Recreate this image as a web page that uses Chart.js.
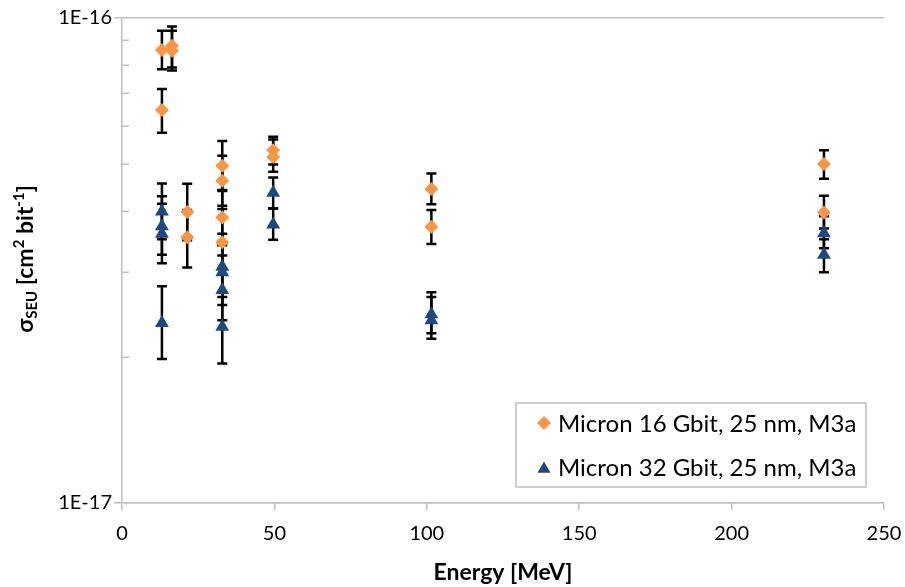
<!DOCTYPE html>
<html>
<head>
<meta charset="utf-8">
<script src="https://cdn.jsdelivr.net/npm/chart.js@4.4.1/dist/chart.umd.min.js"></script>
<style>
  html, body { margin: 0; padding: 0; background: #fff; }
</style>
</head>
<body>
<canvas id="myChart" width="905" height="587"></canvas>
<script>
// Micron 16 Gbit, 25 nm, M3a
const energy16 = [13.1, 13.1, 16.4, 16.4, 21.4, 21.4, 32.9, 32.9, 32.9, 32.9, 49.6, 49.6, 101.5, 101.5, 230.3, 230.3];
const sigma16 = [8.59e-17, 6.46e-17, 8.77e-17, 8.56e-17, 3.98e-17, 3.53e-17, 4.96e-17, 4.62e-17, 3.88e-17, 3.45e-17, 5.34e-17, 5.17e-17, 4.44e-17, 3.71e-17, 5.00e-17, 3.97e-17];
const sigma16Lo = [7.84e-17, 5.80e-17, 7.91e-17, 7.79e-17, 3.48e-17, 3.06e-17, 4.40e-17, 4.10e-17, 3.40e-17, 3.04e-17, 4.99e-17, 4.82e-17, 4.13e-17, 3.42e-17, 4.66e-17, 3.68e-17];
const sigma16Hi = [9.41e-17, 7.14e-17, 9.60e-17, 9.41e-17, 4.55e-17, 4.02e-17, 5.58e-17, 5.20e-17, 4.42e-17, 4.04e-17, 5.69e-17, 5.62e-17, 4.78e-17, 4.02e-17, 5.34e-17, 4.30e-17];

// Micron 32 Gbit, 25 nm, M3a
const energy32 = [13.1, 13.1, 13.1, 13.1, 32.9, 32.9, 32.9, 32.9, 49.6, 49.6, 101.5, 101.5, 230.3, 230.3];
const sigma32 = [3.99e-17, 3.72e-17, 3.59e-17, 2.35e-17, 3.07e-17, 2.99e-17, 2.75e-17, 2.31e-17, 4.36e-17, 3.75e-17, 2.45e-17, 2.38e-17, 3.60e-17, 3.25e-17];
const sigma32Lo = [3.50e-17, 3.25e-17, 3.12e-17, 1.98e-17, 2.66e-17, 2.56e-17, 2.38e-17, 1.94e-17, 4.05e-17, 3.49e-17, 2.24e-17, 2.18e-17, 3.35e-17, 2.99e-17];
const sigma32Hi = [4.56e-17, 4.29e-17, 4.14e-17, 2.80e-17, 3.59e-17, 3.45e-17, 3.24e-17, 2.72e-17, 4.69e-17, 4.05e-17, 2.72e-17, 2.66e-17, 3.90e-17, 3.50e-17];

const seriesLabels = ['Micron 16 Gbit, 25 nm, M3a', 'Micron 32 Gbit, 25 nm, M3a'];
const xTicks = [0, 50, 100, 150, 200, 250];
const yTicks = [1e-17, 2e-17, 3e-17, 4e-17, 5e-17, 6e-17, 7e-17, 8e-17, 9e-17, 1e-16];

const axisGray = '#bfbfbf';
const fontFamily = 'Lato, "Open Sans", sans-serif';

function isMajor(v) {
  const l = Math.log10(v);
  return Math.abs(l - Math.round(l)) < 1e-6;
}

function points(xs, ys) {
  return xs.map((x, i) => ({ x: x, y: ys[i] }));
}

// error bars, drawn behind markers
const errorBars = {
  id: 'errorBars',
  beforeDatasetsDraw(chart) {
    const ctx = chart.ctx;
    const xs = chart.scales.x, ys = chart.scales.y;
    ctx.save();
    ctx.strokeStyle = '#000';
    ctx.lineWidth = 2.5;
    chart.data.datasets.forEach(ds => {
      ds.data.forEach((p, i) => {
        const px = xs.getPixelForValue(p.x);
        const top = ys.getPixelForValue(ds.errHi[i]);
        const bot = ys.getPixelForValue(ds.errLo[i]);
        ctx.beginPath();
        ctx.moveTo(px, top); ctx.lineTo(px, bot);
        ctx.moveTo(px - 5, top); ctx.lineTo(px + 5, top);
        ctx.moveTo(px - 5, bot); ctx.lineTo(px + 5, bot);
        ctx.stroke();
      });
    });
    ctx.restore();
  }
};

// minor ticks of the log axis point inward
const minorTicks = {
  id: 'minorTicks',
  beforeDatasetsDraw(chart) {
    const ctx = chart.ctx;
    const ys = chart.scales.y;
    const left = chart.chartArea.left;
    ctx.save();
    ctx.strokeStyle = axisGray;
    ctx.lineWidth = 1.5;
    ys.ticks.forEach(t => {
      if (isMajor(t.value)) return;
      const y = Math.round(ys.getPixelForValue(t.value)) + 0.25;
      ctx.beginPath();
      ctx.moveTo(left, y); ctx.lineTo(left + 7, y);
      ctx.stroke();
    });
    ctx.restore();
  }
};

// y title with subscript and superscripts
const yTitle = {
  id: 'yTitle',
  afterDraw(chart) {
    const ctx = chart.ctx;
    const parts = [
      { t: 'σ', s: 23, dy: 0 },
      { t: 'SEU', s: 15, dy: 4 },
      { t: ' [cm', s: 23, dy: 0 },
      { t: '2', s: 15, dy: -9 },
      { t: ' bit', s: 23, dy: 0 },
      { t: '-1', s: 15, dy: -9 },
      { t: ']', s: 23, dy: 0 }
    ];
    ctx.save();
    let total = 0;
    parts.forEach(p => {
      ctx.font = 'bold ' + p.s + 'px ' + fontFamily;
      p.w = ctx.measureText(p.t).width;
      total += p.w;
    });
    ctx.translate(33, 259);
    ctx.rotate(-Math.PI / 2);
    ctx.fillStyle = '#000';
    ctx.textBaseline = 'alphabetic';
    let x = -total / 2;
    parts.forEach(p => {
      ctx.font = 'bold ' + p.s + 'px ' + fontFamily;
      ctx.fillText(p.t, x, p.dy);
      x += p.w;
    });
    ctx.restore();
  }
};

// legend box inside the plot area
const boxLegend = {
  id: 'boxLegend',
  afterDraw(chart) {
    const ctx = chart.ctx;
    const ca = chart.chartArea;
    const x0 = ca.right - 368, y0 = ca.bottom - 100;
    ctx.save();
    ctx.fillStyle = '#fff';
    ctx.fillRect(x0, y0, 350, 84);
    ctx.strokeStyle = axisGray;
    ctx.lineWidth = 1.5;
    ctx.strokeRect(x0, y0, 350, 84);
    chart.data.datasets.forEach((ds, i) => {
      const cy = y0 + 20 + i * 44;
      ctx.fillStyle = ds.backgroundColor;
      Chart.helpers.drawPoint(ctx, {
        pointStyle: ds.pointStyle,
        radius: ds.pointStyle === 'triangle' ? 7.5 : 7,
        rotation: 0,
        borderWidth: 0
      }, x0 + 28, cy + (ds.pointStyle === 'triangle' ? 2 : 0));
      ctx.fillStyle = '#000';
      ctx.font = '24px ' + fontFamily;
      ctx.textBaseline = 'middle';
      ctx.fillText(ds.label, x0 + 42, cy + 1);
    });
    ctx.restore();
  }
};

const ctx = document.getElementById('myChart');

new Chart(ctx, {
  type: 'scatter',
  data: {
    datasets: [{
      label: seriesLabels[0],
      data: points(energy16, sigma16),
      errLo: sigma16Lo,
      errHi: sigma16Hi,
      backgroundColor: '#f79646',
      borderColor: '#f79646',
      borderWidth: 0,
      pointStyle: 'rectRot',
      pointRadius: 7,
      pointHoverRadius: 7
    }, {
      label: seriesLabels[1],
      data: points(energy32, sigma32),
      errLo: sigma32Lo,
      errHi: sigma32Hi,
      backgroundColor: '#1f497d',
      borderColor: '#1f497d',
      borderWidth: 0,
      pointStyle: 'triangle',
      pointRadius: 8,
      pointHoverRadius: 8
    }]
  },
  options: {
    responsive: false,
    animation: false,
    devicePixelRatio: 1,
    events: [],
    layout: { padding: { top: 18, right: 21, left: 0, bottom: 0 } },
    font: { family: fontFamily },
    scales: {
      x: {
        type: 'linear',
        min: 0,
        max: 250,
        afterBuildTicks: scale => { scale.ticks = xTicks.map(v => ({ value: v })); },
        afterFit: scale => { scale.height = 84; scale.paddingLeft = 0; scale.paddingRight = 0; },
        ticks: {
          color: '#000',
          font: { family: fontFamily, size: 20 },
          padding: 12,
          maxRotation: 0
        },
        grid: {
          drawOnChartArea: false,
          drawTicks: true,
          tickLength: 7,
          tickColor: axisGray,
          lineWidth: 1.5
        },
        border: { display: true, color: axisGray, width: 1.5 },
        title: {
          display: true,
          text: 'Energy [MeV]',
          color: '#000',
          font: { family: fontFamily, size: 23, weight: 'bold' },
          padding: { top: 0, bottom: 1 }
        }
      },
      y: {
        type: 'logarithmic',
        min: 1e-17,
        max: 1e-16,
        afterBuildTicks: scale => { scale.ticks = yTicks.map(v => ({ value: v })); },
        afterFit: scale => { scale.width = 122; scale.paddingTop = 0; scale.paddingBottom = 0; },
        ticks: {
          color: '#000',
          font: { family: fontFamily, size: 20 },
          padding: 2,
          autoSkip: false,
          callback: function(value) {
            return isMajor(value) ? '1E' + Math.round(Math.log10(value)) : '';
          }
        },
        grid: {
          color: c => (c.tick && isMajor(c.tick.value)) ? axisGray : 'rgba(0,0,0,0)',
          tickColor: c => (c.tick && isMajor(c.tick.value)) ? axisGray : 'rgba(0,0,0,0)',
          tickLength: 8,
          lineWidth: 1.5
        },
        border: { display: true, color: axisGray, width: 1.5 }
      }
    },
    plugins: {
      legend: { display: false },
      tooltip: { enabled: false }
    }
  },
  plugins: [errorBars, minorTicks, yTitle, boxLegend]
});
</script>
</body>
</html>
